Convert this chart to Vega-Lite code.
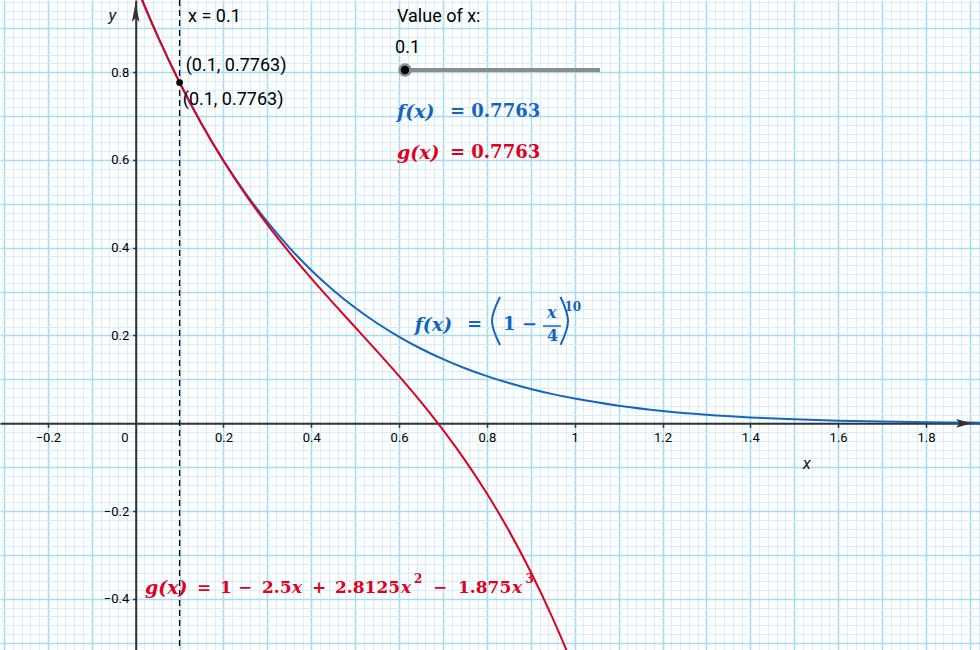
{
"$schema": "https://vega.github.io/schema/vega-lite/v6.json",
"width": 980, "height": 650, "autosize": "none", "padding": 0, "background": "#ffffff",
"config": {"view": {"stroke": null}},
"resolve": {"axis": {"x": "independent", "y": "independent"}},
"layer": [
 {"data": {"values": [
  {"x": -0.02, "y": 1.0511}, {"x": 0, "y": 1}, {"x": 0.02, "y": 0.95111}, {"x": 0.05, "y": 0.88181},
  {"x": 0.1, "y": 0.77633}, {"x": 0.15, "y": 0.68235}, {"x": 0.2, "y": 0.59874}, {"x": 0.25, "y": 0.52446},
  {"x": 0.3, "y": 0.45858}, {"x": 0.35, "y": 0.40025}, {"x": 0.4, "y": 0.34868}, {"x": 0.45, "y": 0.30317},
  {"x": 0.5, "y": 0.26308}, {"x": 0.55, "y": 0.22782}, {"x": 0.6, "y": 0.19687}, {"x": 0.65, "y": 0.16977},
  {"x": 0.7, "y": 0.14606}, {"x": 0.75, "y": 0.12538}, {"x": 0.8, "y": 0.10737}, {"x": 0.85, "y": 0.09173},
  {"x": 0.9, "y": 0.07817}, {"x": 0.95, "y": 0.06644}, {"x": 1.0, "y": 0.05631}, {"x": 1.1, "y": 0.04012},
  {"x": 1.2, "y": 0.02825}, {"x": 1.3, "y": 0.01964}, {"x": 1.4, "y": 0.01346}, {"x": 1.5, "y": 0.00909},
  {"x": 1.6, "y": 0.00605}, {"x": 1.7, "y": 0.00395}, {"x": 1.8, "y": 0.00253}, {"x": 1.9, "y": 0.00159},
  {"x": 1.95, "y": 0.00125}]},
  "mark": {"type": "line", "color": "#1565C0", "strokeWidth": 2, "interpolate": "monotone", "clip": true},
  "encoding": {
   "x": {"field": "x", "type": "quantitative", "scale": {"domain": [-0.3091, 1.9232], "nice": false, "zero": false},
     "axis": {"orient": "bottom", "grid": true, "tickCount": 110, "domain": false, "ticks": false, "labels": false, "title": null,
       "gridColor": {"condition": {"test": "abs(datum.value*10-round(datum.value*10))<0.001", "value": "#A6DCF3"}, "value": "#D4EEFA"},
       "gridWidth": {"condition": {"test": "abs(datum.value*10-round(datum.value*10))<0.001", "value": 1.6}, "value": 1}}},
   "y": {"field": "y", "type": "quantitative", "scale": {"domain": [-0.5164, 0.9642], "nice": false, "zero": false},
     "axis": {"orient": "left", "grid": true, "tickCount": 75, "domain": false, "ticks": false, "labels": false, "title": null,
       "gridColor": {"condition": {"test": "abs(datum.value*10-round(datum.value*10))<0.001", "value": "#A6DCF3"}, "value": "#D4EEFA"},
       "gridWidth": {"condition": {"test": "abs(datum.value*10-round(datum.value*10))<0.001", "value": 1.6}, "value": 1}}}
  }},
 {"data": {"values": [
  {"x": -0.02, "y": 1.05114}, {"x": 0, "y": 1}, {"x": 0.02, "y": 0.95111}, {"x": 0.05, "y": 0.8818},
  {"x": 0.1, "y": 0.77625}, {"x": 0.15, "y": 0.68195}, {"x": 0.2, "y": 0.5975}, {"x": 0.25, "y": 0.52148},
  {"x": 0.3, "y": 0.4525}, {"x": 0.35, "y": 0.38914}, {"x": 0.4, "y": 0.33}, {"x": 0.45, "y": 0.27367},
  {"x": 0.5, "y": 0.21875}, {"x": 0.55, "y": 0.16383}, {"x": 0.6, "y": 0.1075}, {"x": 0.65, "y": 0.04836},
  {"x": 0.7, "y": -0.015}, {"x": 0.75, "y": -0.08398}, {"x": 0.8, "y": -0.16}, {"x": 0.85, "y": -0.24445},
  {"x": 0.9, "y": -0.33875}, {"x": 0.95, "y": -0.4443}, {"x": 1.0, "y": -0.5625}, {"x": 1.05, "y": -0.69477}]},
  "mark": {"type": "line", "color": "#E0001F", "strokeWidth": 2, "interpolate": "monotone", "clip": true},
  "encoding": {
   "x": {"field": "x", "type": "quantitative", "scale": {"domain": [-0.3091, 1.9232], "nice": false, "zero": false},
     "axis": {"orient": "bottom", "offset": -226.7, "grid": false, "values": [-0.2, 0.2, 0.4, 0.6, 0.8, 1, 1.2, 1.4, 1.6, 1.8],
       "domain": true, "domainColor": "#333333", "domainWidth": 2, "ticks": true, "tickColor": "#333333", "tickWidth": 1.5, "tickSize": 4,
       "labelFont": "Roboto", "labelFontSize": 13, "labelColor": "#000000", "labelPadding": 4, "labelFlush": false, "labelOverlap": false,
       "labelExpr": "replace(format(datum.value,'~g'),'-','−')", "title": null}},
   "y": {"field": "y", "type": "quantitative", "scale": {"domain": [-0.5164, 0.9642], "nice": false, "zero": false},
     "axis": {"orient": "left", "offset": -135.7, "grid": false, "values": [-0.4, -0.2, 0.2, 0.4, 0.6, 0.8],
       "domain": true, "domainColor": "#333333", "domainWidth": 2, "ticks": true, "tickColor": "#333333", "tickWidth": 1.5, "tickSize": 3,
       "labelFont": "Roboto", "labelFontSize": 13, "labelColor": "#000000", "labelPadding": 4, "labelFlush": false, "labelOverlap": false,
       "labelExpr": "replace(format(datum.value,'~g'),'-','−')", "title": null}}
  }},
 {"data": {"values": [{"x": 1.8868, "y": 0}]},
  "mark": {"type": "point", "shape": "M1,0L-1,-0.55L-0.55,0L-1,0.55Z", "size": 256, "filled": true, "color": "#333333", "opacity": 1},
  "encoding": {
   "x": {"field": "x", "type": "quantitative", "scale": {"domain": [-0.3091, 1.9232], "nice": false, "zero": false}, "axis": null},
   "y": {"field": "y", "type": "quantitative", "scale": {"domain": [-0.5164, 0.9642], "nice": false, "zero": false}, "axis": null}}},
 {"data": {"values": [{"x": 0, "y": 0.9369}]},
  "mark": {"type": "point", "shape": "M0,-1L-0.38,1L0,0.6L0.38,1Z", "size": 400, "filled": true, "color": "#333333", "opacity": 1},
  "encoding": {
   "x": {"field": "x", "type": "quantitative", "scale": {"domain": [-0.3091, 1.9232], "nice": false, "zero": false}, "axis": null},
   "y": {"field": "y", "type": "quantitative", "scale": {"domain": [-0.5164, 0.9642], "nice": false, "zero": false}, "axis": null}}},
 {"data": {"values": [{"x": 0.1}]},
  "mark": {"type": "rule", "color": "#000000", "strokeWidth": 1.3, "strokeDash": [6, 4]},
  "encoding": {
   "x": {"field": "x", "type": "quantitative", "scale": {"domain": [-0.3091, 1.9232], "nice": false, "zero": false}, "axis": null}}},
 {"data": {"values": [{"x": 0.6134, "x2": 1.0576, "y": 0.8048}]},
  "mark": {"type": "rule", "color": "#8C8C8C", "strokeWidth": 4},
  "encoding": {
   "x": {"field": "x", "type": "quantitative", "scale": {"domain": [-0.3091, 1.9232], "nice": false, "zero": false}, "axis": null},
   "x2": {"field": "x2"},
   "y": {"field": "y", "type": "quantitative", "scale": {"domain": [-0.5164, 0.9642], "nice": false, "zero": false}, "axis": null}}},
 {"data": {"values": [{"x": 0.6134, "y": 0.8048}]},
  "mark": {"type": "point", "shape": "circle", "size": 120, "filled": true, "fill": "#000000", "stroke": "#8A8A8A", "strokeWidth": 2.5, "opacity": 1},
  "encoding": {
   "x": {"field": "x", "type": "quantitative", "scale": {"domain": [-0.3091, 1.9232], "nice": false, "zero": false}, "axis": null},
   "y": {"field": "y", "type": "quantitative", "scale": {"domain": [-0.5164, 0.9642], "nice": false, "zero": false}, "axis": null}}},
 {"data": {"values": [{"x": 0.1, "y": 0.7763}]},
  "mark": {"type": "point", "shape": "circle", "size": 45, "filled": true, "color": "#000000", "opacity": 1},
  "encoding": {
   "x": {"field": "x", "type": "quantitative", "scale": {"domain": [-0.3091, 1.9232], "nice": false, "zero": false}, "axis": null},
   "y": {"field": "y", "type": "quantitative", "scale": {"domain": [-0.5164, 0.9642], "nice": false, "zero": false}, "axis": null}}},
 {"data": {"values": [
   {"x": 0.1193, "y": 0.9255, "label": "x = 0.1"},
   {"x": 0.1139, "y": 0.8146, "label": "(0.1, 0.7763)"},
   {"x": 0.1071, "y": 0.7353, "label": "(0.1, 0.7763)"},
   {"x": 0.5952, "y": 0.9255, "label": "Value of x:"},
   {"x": 0.5907, "y": 0.8538, "label": "0.1"}]},
  "mark": {"type": "text", "font": "Roboto", "fontSize": 18, "align": "left", "baseline": "middle", "color": "#000000"},
  "encoding": {
   "x": {"field": "x", "type": "quantitative", "scale": {"domain": [-0.3091, 1.9232], "nice": false, "zero": false}, "axis": null},
   "y": {"field": "y", "type": "quantitative", "scale": {"domain": [-0.5164, 0.9642], "nice": false, "zero": false}, "axis": null},
   "text": {"field": "label"}}},
 {"data": {"values": [
   {"x": 1.5285, "y": -0.0916, "label": "x"},
   {"x": -0.0528, "y": 0.9267, "label": "y"}]},
  "mark": {"type": "text", "font": "Roboto", "fontSize": 17, "fontStyle": "italic", "align": "center", "baseline": "middle", "color": "#222222"},
  "encoding": {
   "x": {"field": "x", "type": "quantitative", "scale": {"domain": [-0.3091, 1.9232], "nice": false, "zero": false}, "axis": null},
   "y": {"field": "y", "type": "quantitative", "scale": {"domain": [-0.5164, 0.9642], "nice": false, "zero": false}, "axis": null},
   "text": {"field": "label"}}},
 {"data": {"values": [{"x": -0.0244, "y": -0.0328, "label": "0"}]},
  "mark": {"type": "text", "font": "Roboto", "fontSize": 13, "align": "center", "baseline": "middle", "color": "#000000"},
  "encoding": {
   "x": {"field": "x", "type": "quantitative", "scale": {"domain": [-0.3091, 1.9232], "nice": false, "zero": false}, "axis": null},
   "y": {"field": "y", "type": "quantitative", "scale": {"domain": [-0.5164, 0.9642], "nice": false, "zero": false}, "axis": null},
   "text": {"field": "label"}}},
 {"data": {"values": [
   {"x": 0.5952, "y": 0.708, "label": "f(x)"},
   {"x": 0.6355, "y": 0.2239, "label": "f(x)"}]},
  "mark": {"type": "text", "font": "DejaVu Serif", "fontSize": 19, "fontWeight": "bold", "fontStyle": "italic", "align": "left", "baseline": "middle", "color": "#1565C0"},
  "encoding": {
   "x": {"field": "x", "type": "quantitative", "scale": {"domain": [-0.3091, 1.9232], "nice": false, "zero": false}, "axis": null},
   "y": {"field": "y", "type": "quantitative", "scale": {"domain": [-0.5164, 0.9642], "nice": false, "zero": false}, "axis": null},
   "text": {"field": "label"}}},
 {"data": {"values": [
   {"x": 0.7159, "y": 0.708, "label": "= 0.7763"},
   {"x": 0.7546, "y": 0.2239, "label": "="},
   {"x": 0.8367, "y": 0.2239, "label": "1"},
   {"x": 0.88, "y": 0.2239, "label": "−"}]},
  "mark": {"type": "text", "font": "DejaVu Serif", "fontSize": 18, "fontWeight": "bold", "align": "left", "baseline": "middle", "color": "#1565C0"},
  "encoding": {
   "x": {"field": "x", "type": "quantitative", "scale": {"domain": [-0.3091, 1.9232], "nice": false, "zero": false}, "axis": null},
   "y": {"field": "y", "type": "quantitative", "scale": {"domain": [-0.5164, 0.9642], "nice": false, "zero": false}, "axis": null},
   "text": {"field": "label"}}},
 {"data": {"values": [{"x": 0.9369, "y": 0.2513, "label": "x"}]},
  "mark": {"type": "text", "font": "DejaVu Serif", "fontSize": 16, "fontWeight": "bold", "fontStyle": "italic", "align": "left", "baseline": "middle", "color": "#1565C0"},
  "encoding": {
   "x": {"field": "x", "type": "quantitative", "scale": {"domain": [-0.3091, 1.9232], "nice": false, "zero": false}, "axis": null},
   "y": {"field": "y", "type": "quantitative", "scale": {"domain": [-0.5164, 0.9642], "nice": false, "zero": false}, "axis": null},
   "text": {"field": "label"}}},
 {"data": {"values": [{"x": 0.9369, "y": 0.1989, "label": "4"}]},
  "mark": {"type": "text", "font": "DejaVu Serif", "fontSize": 16, "fontWeight": "bold", "align": "left", "baseline": "middle", "color": "#1565C0"},
  "encoding": {
   "x": {"field": "x", "type": "quantitative", "scale": {"domain": [-0.3091, 1.9232], "nice": false, "zero": false}, "axis": null},
   "y": {"field": "y", "type": "quantitative", "scale": {"domain": [-0.5164, 0.9642], "nice": false, "zero": false}, "axis": null},
   "text": {"field": "label"}}},
 {"data": {"values": [{"x": 0.9765, "y": 0.2651, "label": "10"}]},
  "mark": {"type": "text", "font": "DejaVu Serif", "fontSize": 12, "fontWeight": "bold", "align": "left", "baseline": "middle", "color": "#1565C0"},
  "encoding": {
   "x": {"field": "x", "type": "quantitative", "scale": {"domain": [-0.3091, 1.9232], "nice": false, "zero": false}, "axis": null},
   "y": {"field": "y", "type": "quantitative", "scale": {"domain": [-0.5164, 0.9642], "nice": false, "zero": false}, "axis": null},
   "text": {"field": "label"}}},
 {"data": {"values": [{"x": 0.9278, "x2": 0.9686, "y": 0.2216}]},
  "mark": {"type": "rule", "color": "#1565C0", "strokeWidth": 1.5},
  "encoding": {
   "x": {"field": "x", "type": "quantitative", "scale": {"domain": [-0.3091, 1.9232], "nice": false, "zero": false}, "axis": null},
   "x2": {"field": "x2"},
   "y": {"field": "y", "type": "quantitative", "scale": {"domain": [-0.5164, 0.9642], "nice": false, "zero": false}, "axis": null}}},
 {"data": {"values": [
   {"x": 0.8298, "y": 0.2878, "p": "l", "o": 0}, {"x": 0.8116, "y": 0.2332, "p": "l", "o": 1}, {"x": 0.8298, "y": 0.1785, "p": "l", "o": 2},
   {"x": 0.9677, "y": 0.2878, "p": "r", "o": 0}, {"x": 0.9848, "y": 0.2332, "p": "r", "o": 1}, {"x": 0.9677, "y": 0.1785, "p": "r", "o": 2}]},
  "mark": {"type": "line", "color": "#1565C0", "strokeWidth": 2, "interpolate": "natural"},
  "encoding": {
   "x": {"field": "x", "type": "quantitative", "scale": {"domain": [-0.3091, 1.9232], "nice": false, "zero": false}, "axis": null},
   "y": {"field": "y", "type": "quantitative", "scale": {"domain": [-0.5164, 0.9642], "nice": false, "zero": false}, "axis": null},
   "detail": {"field": "p"},
   "order": {"field": "o", "type": "quantitative"}}},
 {"data": {"values": [
   {"x": 0.5952, "y": 0.6157, "label": "g(x)"},
   {"x": 0.0212, "y": -0.3752, "label": "g(x)"}]},
  "mark": {"type": "text", "font": "DejaVu Serif", "fontSize": 19, "fontWeight": "bold", "fontStyle": "italic", "align": "left", "baseline": "middle", "color": "#E0001F"},
  "encoding": {
   "x": {"field": "x", "type": "quantitative", "scale": {"domain": [-0.3091, 1.9232], "nice": false, "zero": false}, "axis": null},
   "y": {"field": "y", "type": "quantitative", "scale": {"domain": [-0.5164, 0.9642], "nice": false, "zero": false}, "axis": null},
   "text": {"field": "label"}}},
 {"data": {"values": [
   {"x": 0.3562, "y": -0.3752, "label": "x"},
   {"x": 0.6043, "y": -0.3752, "label": "x"},
   {"x": 0.8572, "y": -0.3752, "label": "x"}]},
  "mark": {"type": "text", "font": "DejaVu Serif", "fontSize": 17, "fontWeight": "bold", "fontStyle": "italic", "align": "left", "baseline": "middle", "color": "#E0001F"},
  "encoding": {
   "x": {"field": "x", "type": "quantitative", "scale": {"domain": [-0.3091, 1.9232], "nice": false, "zero": false}, "axis": null},
   "y": {"field": "y", "type": "quantitative", "scale": {"domain": [-0.5164, 0.9642], "nice": false, "zero": false}, "axis": null},
   "text": {"field": "label"}}},
 {"data": {"values": [
   {"x": 0.7159, "y": 0.6157, "label": "= 0.7763"}]},
  "mark": {"type": "text", "font": "DejaVu Serif", "fontSize": 18, "fontWeight": "bold", "align": "left", "baseline": "middle", "color": "#E0001F"},
  "encoding": {
   "x": {"field": "x", "type": "quantitative", "scale": {"domain": [-0.3091, 1.9232], "nice": false, "zero": false}, "axis": null},
   "y": {"field": "y", "type": "quantitative", "scale": {"domain": [-0.5164, 0.9642], "nice": false, "zero": false}, "axis": null},
   "text": {"field": "label"}}},
 {"data": {"values": [
   {"x": 0.1396, "y": -0.3752, "label": "="},
   {"x": 0.192, "y": -0.3752, "label": "1"},
   {"x": 0.233, "y": -0.3752, "label": "−"},
   {"x": 0.2877, "y": -0.3752, "label": "2.5"},
   {"x": 0.4016, "y": -0.3752, "label": "+"},
   {"x": 0.454, "y": -0.3752, "label": "2.8125"},
   {"x": 0.6772, "y": -0.3752, "label": "−"},
   {"x": 0.7342, "y": -0.3752, "label": "1.875"}]},
  "mark": {"type": "text", "font": "DejaVu Serif", "fontSize": 17, "fontWeight": "bold", "align": "left", "baseline": "middle", "color": "#E0001F"},
  "encoding": {
   "x": {"field": "x", "type": "quantitative", "scale": {"domain": [-0.3091, 1.9232], "nice": false, "zero": false}, "axis": null},
   "y": {"field": "y", "type": "quantitative", "scale": {"domain": [-0.5164, 0.9642], "nice": false, "zero": false}, "axis": null},
   "text": {"field": "label"}}},
 {"data": {"values": [
   {"x": 0.6339, "y": -0.3547, "label": "2"},
   {"x": 0.888, "y": -0.3547, "label": "3"}]},
  "mark": {"type": "text", "font": "DejaVu Serif", "fontSize": 12, "fontWeight": "bold", "align": "left", "baseline": "middle", "color": "#E0001F"},
  "encoding": {
   "x": {"field": "x", "type": "quantitative", "scale": {"domain": [-0.3091, 1.9232], "nice": false, "zero": false}, "axis": null},
   "y": {"field": "y", "type": "quantitative", "scale": {"domain": [-0.5164, 0.9642], "nice": false, "zero": false}, "axis": null},
   "text": {"field": "label"}}}
]
}
